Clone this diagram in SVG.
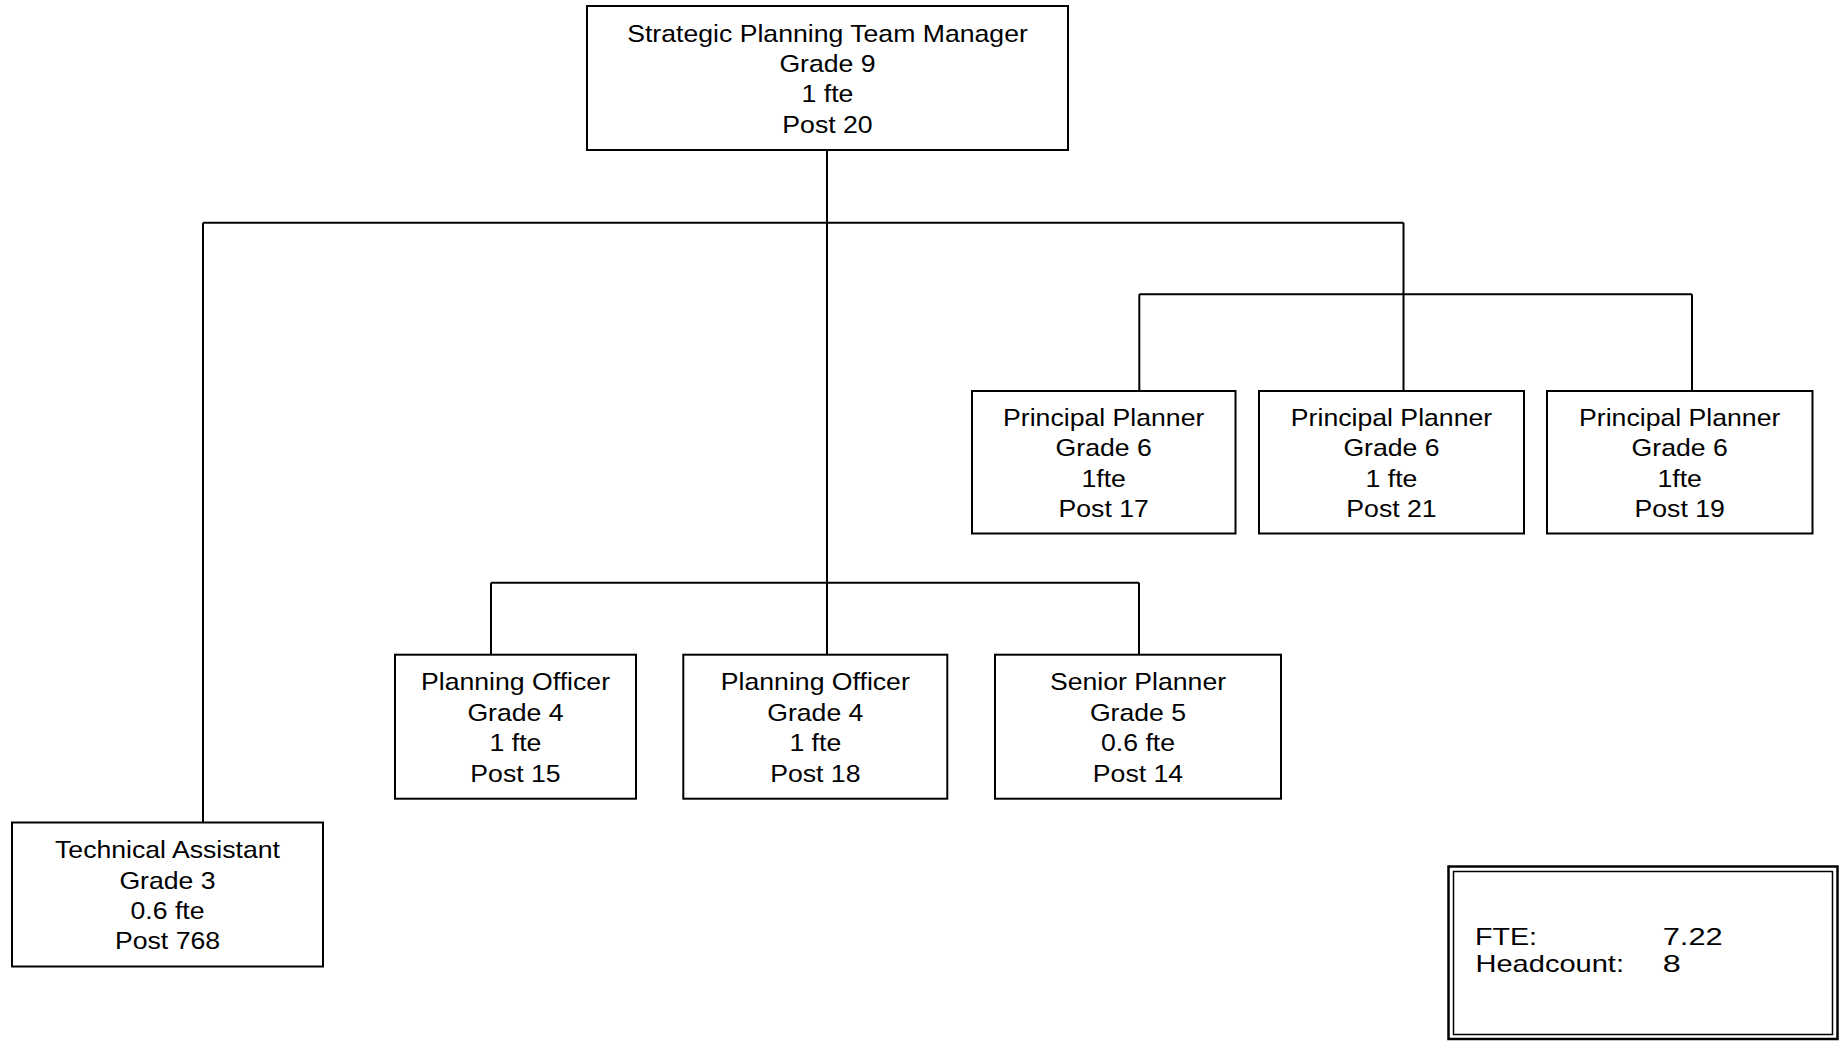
<svg xmlns="http://www.w3.org/2000/svg" width="1845" height="1041" viewBox="0 0 1845 1041">
  <style>
    .box { fill: #ffffff; stroke: #000000; stroke-width: 2; }
    .wire { fill: none; stroke: #000000; stroke-width: 2; }
    .lbl { font-family: "Liberation Sans", Arial, sans-serif; font-size: 24px; fill: #000000; text-anchor: middle; }
    .sum { font-family: "Liberation Sans", Arial, sans-serif; font-size: 24px; fill: #000000; }
  </style>
  <rect x="0" y="0" width="1845" height="1041" fill="#ffffff"/>

  <!-- reporting lines -->
  <g id="connectors">
    <path class="wire" d="M827 150 V654.7"/>
    <path class="wire" d="M203 222.7 H1403.5"/>
    <path class="wire" d="M203 222.7 V822.5"/>
    <path class="wire" d="M1403.5 222.7 V391"/>
    <path class="wire" d="M1139.3 294.3 H1692"/>
    <path class="wire" d="M1139.3 294.3 V391"/>
    <path class="wire" d="M1692 294.3 V391"/>
    <path class="wire" d="M491 582.7 H1139"/>
    <path class="wire" d="M491 582.7 V654.7"/>
    <path class="wire" d="M1139 582.7 V654.7"/>
  </g>

  <g id="manager">
    <rect class="box" x="587" y="6" width="481" height="144"/>
    <g transform="translate(827.5,78) scale(1.11,1)">
      <text class="lbl"><tspan x="0" y="-36.5">Strategic Planning Team Manager</tspan><tspan x="0" y="-6">Grade 9</tspan><tspan x="0" y="24.5">1 fte</tspan><tspan x="0" y="55">Post 20</tspan></text>
    </g>
  </g>

  <g id="principal-17">
    <rect class="box" x="972" y="391" width="263.5" height="142.5"/>
    <g transform="translate(1103.7,462.2) scale(1.11,1)">
      <text class="lbl"><tspan x="0" y="-36.5">Principal Planner</tspan><tspan x="0" y="-6">Grade 6</tspan><tspan x="0" y="24.5">1fte</tspan><tspan x="0" y="55">Post 17</tspan></text>
    </g>
  </g>

  <g id="principal-21">
    <rect class="box" x="1259" y="391" width="265" height="142.5"/>
    <g transform="translate(1391.5,462.2) scale(1.11,1)">
      <text class="lbl"><tspan x="0" y="-36.5">Principal Planner</tspan><tspan x="0" y="-6">Grade 6</tspan><tspan x="0" y="24.5">1 fte</tspan><tspan x="0" y="55">Post 21</tspan></text>
    </g>
  </g>

  <g id="principal-19">
    <rect class="box" x="1547" y="391" width="265.5" height="142.5"/>
    <g transform="translate(1679.7,462.2) scale(1.11,1)">
      <text class="lbl"><tspan x="0" y="-36.5">Principal Planner</tspan><tspan x="0" y="-6">Grade 6</tspan><tspan x="0" y="24.5">1fte</tspan><tspan x="0" y="55">Post 19</tspan></text>
    </g>
  </g>

  <g id="officer-15">
    <rect class="box" x="395" y="654.7" width="241" height="144"/>
    <g transform="translate(515.5,726.7) scale(1.11,1)">
      <text class="lbl"><tspan x="0" y="-36.5">Planning Officer</tspan><tspan x="0" y="-6">Grade 4</tspan><tspan x="0" y="24.5">1 fte</tspan><tspan x="0" y="55">Post 15</tspan></text>
    </g>
  </g>

  <g id="officer-18">
    <rect class="box" x="683.3" y="654.7" width="264" height="144"/>
    <g transform="translate(815.3,726.7) scale(1.11,1)">
      <text class="lbl"><tspan x="0" y="-36.5">Planning Officer</tspan><tspan x="0" y="-6">Grade 4</tspan><tspan x="0" y="24.5">1 fte</tspan><tspan x="0" y="55">Post 18</tspan></text>
    </g>
  </g>

  <g id="senior-14">
    <rect class="box" x="995" y="654.7" width="286" height="144"/>
    <g transform="translate(1138,726.7) scale(1.11,1)">
      <text class="lbl"><tspan x="0" y="-36.5">Senior Planner</tspan><tspan x="0" y="-6">Grade 5</tspan><tspan x="0" y="24.5">0.6 fte</tspan><tspan x="0" y="55">Post 14</tspan></text>
    </g>
  </g>

  <g id="technical-768">
    <rect class="box" x="12" y="822.5" width="311" height="144"/>
    <g transform="translate(167.5,894.5) scale(1.11,1)">
      <text class="lbl"><tspan x="0" y="-36.5">Technical Assistant</tspan><tspan x="0" y="-6">Grade 3</tspan><tspan x="0" y="24.5">0.6 fte</tspan><tspan x="0" y="55">Post 768</tspan></text>
    </g>
  </g>

  <!-- staffing totals panel with a double frame -->
  <g id="totals">
    <rect x="1448.5" y="866.5" width="389" height="172.5" fill="#ffffff" stroke="#000000" stroke-width="2.5"/>
    <rect x="1453.5" y="871.5" width="379" height="163" fill="none" stroke="#000000" stroke-width="1.5"/>
    <text class="sum" x="1475" y="944.5" textLength="62" lengthAdjust="spacingAndGlyphs">FTE:</text>
    <text class="sum" x="1662.7" y="944.5" textLength="60" lengthAdjust="spacingAndGlyphs">7.22</text>
    <text class="sum" x="1475.5" y="971.5" textLength="148.5" lengthAdjust="spacingAndGlyphs">Headcount:</text>
    <text class="sum" x="1662.7" y="971.5" textLength="18" lengthAdjust="spacingAndGlyphs">8</text>
  </g>
</svg>
